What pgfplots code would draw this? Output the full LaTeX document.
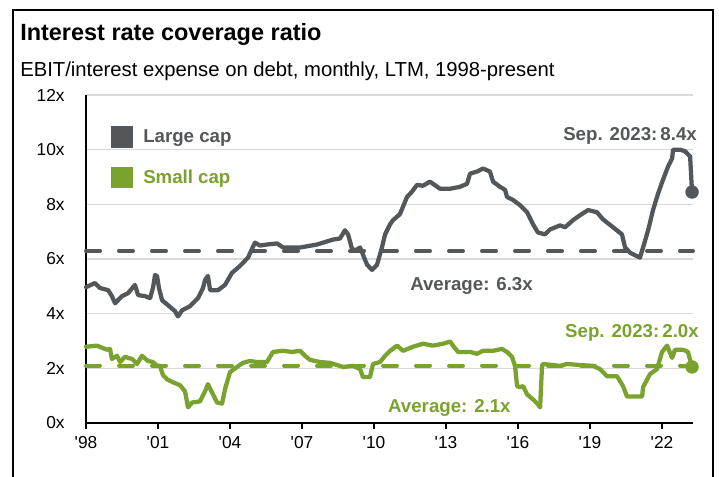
\documentclass[border=0pt]{standalone}
\usepackage{fontspec}
\setmainfont{Liberation Sans}
\newfontfamily\plainfont{Liberation Sans}
\usepackage{pgfplots}
\pgfplotsset{compat=1.18}
\definecolor{lcgray}{HTML}{54575A}
\definecolor{scgreen}{HTML}{7AA22F}
\definecolor{gridgray}{HTML}{D9D9D9}

\pgfplotstableread{
x y
1998.00 4.97
1998.375 5.12
1998.58 4.94
1998.92 4.86
1999.08 4.64
1999.21 4.38
1999.5 4.64
1999.75 4.75
2000.04 5.05
2000.17 4.68
2000.46 4.64
2000.67 4.57
2000.79 4.94
2000.875 5.41
2000.96 5.38
2001.04 4.94
2001.17 4.49
2001.42 4.31
2001.71 4.09
2001.83 3.90
2002.0 4.12
2002.33 4.27
2002.67 4.57
2002.875 4.94
2002.96 5.23
2003.08 5.38
2003.17 4.86
2003.5 4.86
2003.79 5.05
2004.08 5.49
2004.42 5.75
2004.75 6.05
2005.04 6.60
2005.25 6.49
2005.54 6.53
2005.96 6.57
2006.21 6.42
2006.92 6.42
2007.625 6.53
2008.29 6.71
2008.58 6.75
2008.79 7.05
2008.92 6.90
2009.08 6.38
2009.21 6.31
2009.42 6.42
2009.71 5.79
2009.92 5.60
2010.125 5.79
2010.33 6.42
2010.46 6.90
2010.67 7.27
2010.79 7.42
2011.08 7.64
2011.375 8.27
2011.58 8.46
2011.79 8.71
2012.04 8.68
2012.33 8.83
2012.75 8.57
2013.17 8.57
2013.58 8.64
2013.875 8.75
2014.0 9.12
2014.29 9.20
2014.54 9.31
2014.83 9.20
2014.96 8.83
2015.25 8.64
2015.46 8.53
2015.54 8.27
2015.79 8.16
2016.08 7.97
2016.375 7.71
2016.625 7.27
2016.83 6.97
2017.125 6.90
2017.33 7.08
2017.75 7.23
2017.96 7.16
2018.29 7.42
2018.58 7.60
2018.92 7.79
2019.29 7.71
2019.54 7.45
2019.96 7.16
2020.33 6.90
2020.46 6.42
2020.67 6.23
2021.08 6.05
2021.21 6.42
2021.42 7.05
2021.625 7.79
2021.83 8.38
2022.04 8.90
2022.25 9.38
2022.42 9.68
2022.46 10.00
2022.75 10.00
2022.96 9.94
2023.17 9.75
2023.25 8.45
}\largecap

\pgfplotstableread{
x y
1998.0 2.79
1998.46 2.83
1998.875 2.68
1999.0 2.71
1999.08 2.34
1999.29 2.46
1999.42 2.23
1999.625 2.42
1999.92 2.34
2000.125 2.16
2000.33 2.46
2000.58 2.27
2000.79 2.23
2000.96 2.09
2001.08 2.09
2001.21 1.75
2001.375 1.60
2001.625 1.49
2001.92 1.38
2002.125 1.16
2002.25 0.57
2002.42 0.75
2002.75 0.79
2002.96 1.16
2003.08 1.42
2003.25 1.12
2003.46 0.75
2003.67 0.71
2003.79 1.23
2004.0 1.86
2004.29 2.05
2004.54 2.20
2004.83 2.27
2005.125 2.23
2005.54 2.23
2005.79 2.60
2006.21 2.64
2006.58 2.60
2006.92 2.64
2007.125 2.46
2007.33 2.31
2007.75 2.23
2008.17 2.20
2008.71 2.05
2009.125 2.09
2009.42 1.97
2009.54 1.68
2009.83 1.68
2009.96 2.16
2010.25 2.23
2010.46 2.46
2010.67 2.64
2010.96 2.83
2011.21 2.64
2011.625 2.79
2012.04 2.90
2012.46 2.83
2012.875 2.90
2013.17 2.98
2013.29 2.83
2013.5 2.60
2014.0 2.60
2014.29 2.53
2014.54 2.64
2014.96 2.64
2015.33 2.71
2015.54 2.60
2015.75 2.42
2015.875 2.09
2015.96 1.35
2016.08 1.31
2016.21 1.35
2016.375 1.05
2016.625 0.86
2016.83 0.68
2016.92 0.57
2017.0 2.09
2017.04 2.16
2017.75 2.09
2018.04 2.16
2018.58 2.12
2019.125 2.09
2019.42 1.97
2019.71 1.71
2020.125 1.71
2020.375 1.35
2020.54 0.97
2021.17 0.97
2021.21 1.31
2021.5 1.79
2021.79 1.97
2022.0 2.60
2022.21 2.83
2022.42 2.38
2022.54 2.68
2022.875 2.68
2023.08 2.60
2023.25 2.05
}\smallcap

\begin{document}
\begin{tikzpicture}
\useasboundingbox (-64.5pt,-40.5pt) rectangle (474.75pt,317.25pt);
\draw[line width=1.5pt,black] (-54.75pt,-42pt) -- (-54.75pt,309.75pt) -- (470.25pt,309.75pt) -- (470.25pt,-42pt);
\node[anchor=base west,inner sep=0pt,font=\bfseries\fontsize{17.6}{20}\selectfont] at (-49.5pt,286.5pt) {Interest rate coverage ratio};
\node[anchor=base west,inner sep=0pt,font=\fontsize{15.2}{18}\selectfont] at (-49.5pt,259.5pt) {EBIT/interest expense on debt, monthly, LTM, 1998-present};
\begin{axis}[
  at={(0pt,0pt)}, anchor=south west,
  scale only axis, width=455.25pt, height=246pt,
  xmin=1998, xmax=2023.29, ymin=0, ymax=12,
  axis x line*=bottom, axis y line*=left,
  axis line style={black,line width=1pt},
  xtick={1998,2001,2004,2007,2010,2013,2016,2019,2022},
  xticklabels={'98,'01,'04,'07,'10,'13,'16,'19,'22},
  xticklabel style={font=\plainfont\fontsize{13}{15}\selectfont, yshift=-2pt},
  ytick={0,2,4,6,8,10,12},
  yticklabels={0x,2x,4x,6x,8x,10x,12x},
  yticklabel style={font=\plainfont\fontsize{13}{15}\selectfont, xshift=-8pt},
  x tick style={black,line width=1pt}, major tick length=4.5pt, tick align=outside,
  y tick style={draw=none},
  ymajorgrids, grid style={gridgray,line width=1.1pt},
  clip=false,
  legend style={at={(18.75pt,222.75pt)}, anchor=north west, draw=none, fill=none,
    font=\bfseries\fontsize{14}{16}\selectfont, row sep=14.5pt, inner sep=0pt},
  legend cell align=left,
]
\addplot[lcgray, line width=3.2pt, line join=round, line cap=round,
  legend image code/.code={\path[fill=lcgray,draw=none] (0pt,-8pt) rectangle (16pt,8pt); \path[draw=none,fill=none] (22pt,0pt) circle (0pt);}] table[x=x,y=y] {\largecap};
\addlegendentry{\textcolor{lcgray}{Large cap}}
\addplot[scgreen, line width=3.2pt, line join=round, line cap=round,
  legend image code/.code={\path[fill=scgreen,draw=none] (0pt,-8pt) rectangle (16pt,8pt); \path[draw=none,fill=none] (22pt,0pt) circle (0pt);}] table[x=x,y=y] {\smallcap};
\addlegendentry{\textcolor{scgreen}{Small cap}}
\addplot[lcgray, line width=3pt, line cap=round, dash pattern=on 10.5pt off 14.25pt, forget plot] coordinates {(1998,6.3) (2023.29,6.3)};
\addplot[scgreen, line width=3pt, line cap=round, dash pattern=on 10.5pt off 14.25pt, forget plot] coordinates {(1998,2.1) (2023.29,2.1)};
\addplot[lcgray, only marks, mark=*, mark size=4.8pt, forget plot] coordinates {(2023.25,8.45)};
\addplot[scgreen, only marks, mark=*, mark size=4.8pt, forget plot] coordinates {(2023.25,2.05)};
\node[anchor=base east, inner sep=0pt, text=lcgray, font=\bfseries\fontsize{14}{16}\selectfont] at (axis cs:2023.46,10.34) {Sep. 2023:\,8.4x};
\node[anchor=base west, inner sep=0pt, text=lcgray, font=\bfseries\fontsize{14}{16}\selectfont] at (axis cs:2011.5,4.83) {Average: 6.3x};
\node[anchor=base east, inner sep=0pt, text=scgreen, font=\bfseries\fontsize{14}{16}\selectfont] at (axis cs:2023.54,3.12) {Sep. 2023:\,2.0x};
\node[anchor=base west, inner sep=0pt, text=scgreen, font=\bfseries\fontsize{14}{16}\selectfont] at (axis cs:2010.58,0.38) {Average: 2.1x};
\end{axis}
\end{tikzpicture}
\end{document}
